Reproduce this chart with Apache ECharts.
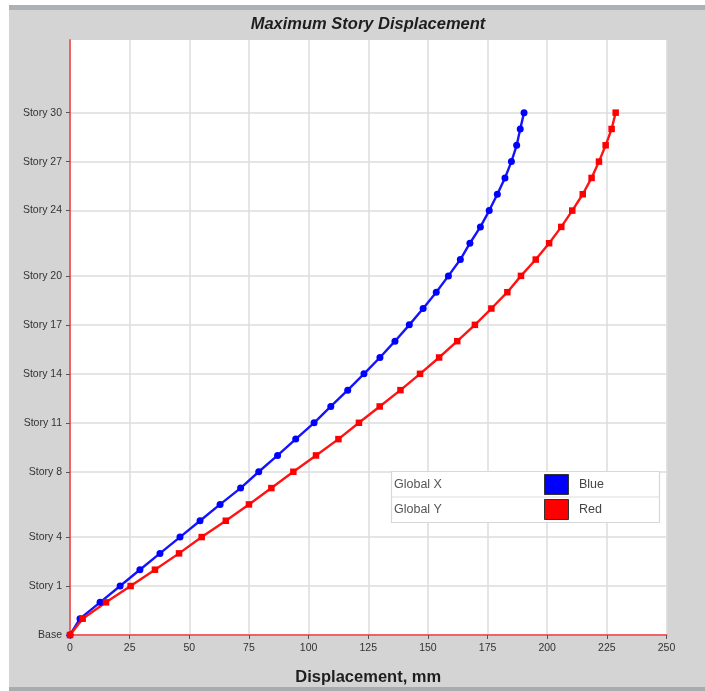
<!DOCTYPE html>
<html>
<head>
<meta charset="utf-8">
<script src="https://cdn.jsdelivr.net/npm/echarts@6/dist/echarts.min.js"></script>
<style>html,body{margin:0;padding:0;background:#fff;}#c{width:705px;height:691px;}</style>
</head>
<body>
<div id="c"></div>
<script>
// Level index: 0 = Base, 1-2 = lower levels, 3 = Story 1 ... 32 = Story 30
const tickLevels = [0, 3, 6, 10, 13, 16, 19, 22, 26, 29, 32];
const tickLabels = ['Base', 'Story 1', 'Story 4', 'Story 8', 'Story 11', 'Story 14', 'Story 17', 'Story 20', 'Story 24', 'Story 27', 'Story 30'];
const xTicks = [0, 25, 50, 75, 100, 125, 150, 175, 200, 225, 250];

const seriesNames = ['Global X', 'Global Y'];
const seriesColorNames = ['Blue', 'Red'];

// displacement (mm) at each level, Base -> Story 30
const globalX = [0, 4.2, 12.6, 21.0, 29.3, 37.7, 46.1, 54.5, 62.9, 71.5, 79.1, 87.0, 94.6, 102.3, 109.3, 116.4, 123.2, 129.9, 136.2, 142.2, 148.0, 153.5, 158.6, 163.6, 167.6, 172.0, 175.7, 179.1, 182.3, 185.0, 187.2, 188.7, 190.3];
const globalY = [0, 5.3, 15.1, 25.4, 35.6, 45.7, 55.2, 65.3, 75.0, 84.4, 93.6, 103.1, 112.5, 121.1, 129.8, 138.5, 146.7, 154.7, 162.3, 169.7, 176.6, 183.3, 189.0, 195.2, 200.8, 205.9, 210.5, 214.9, 218.6, 221.7, 224.5, 227.0, 228.7];

const chart = echarts.init(document.getElementById('c'), null, {renderer: 'canvas'});
const toPts = arr => arr.map((v, i) => [v, i]);

const axisRed = '#ee6464';
const font = 'Liberation Sans, Arial, sans-serif';

chart.setOption({
  backgroundColor: '#ffffff',
  animation: false,
  grid: {left: 70, right: 38.5, top: 40, bottom: 55.3, show: true, backgroundColor: '#ffffff', borderWidth: 0},
  xAxis: {
    type: 'value', min: 0, max: 250, interval: 25,
    name: 'Displacement, mm', nameLocation: 'middle', nameGap: 34,
    nameTextStyle: {fontFamily: font, fontSize: 16.5, fontWeight: 'bold', color: '#1e1e1e'},
    axisLine: {show: true, lineStyle: {color: axisRed, width: 2}},
    axisTick: {show: true, length: 4, lineStyle: {color: '#555', width: 1}},
    axisLabel: {fontFamily: font, fontSize: 10.5, color: '#333', margin: 8},
    splitLine: {show: true, lineStyle: {color: '#dcdcdc', width: 1.5}}
  },
  yAxis: {
    type: 'value', min: 0, max: 36.45,
    axisLine: {show: true, lineStyle: {color: axisRed, width: 2}},
    axisTick: {show: true, length: 4, customValues: tickLevels, lineStyle: {color: '#555', width: 1}},
    axisLabel: {fontFamily: font, fontSize: 10.5, color: '#333', margin: 8, customValues: tickLevels,
      formatter: v => { const k = tickLevels.indexOf(Math.round(v)); return k >= 0 ? tickLabels[k] : ''; }},
    splitLine: {show: true, lineStyle: {color: '#dcdcdc', width: 1.5}}
  },
  series: [
    {name: seriesNames[0], type: 'line', data: toPts(globalX), symbol: 'circle', symbolSize: 7,
      lineStyle: {color: '#1414ff', width: 2.4}, itemStyle: {color: '#0000ff'}},
    {name: seriesNames[1], type: 'line', data: toPts(globalY), symbol: 'rect', symbolSize: 6.5,
      lineStyle: {color: '#ff1414', width: 2.4}, itemStyle: {color: '#ff0000'}}
  ],
  graphic: [
    {type: 'rect', z: -10, silent: true, shape: {x: 9, y: 5, width: 696, height: 686}, style: {fill: '#d4d4d4'}},
    {type: 'rect', z: -9, silent: true, shape: {x: 9, y: 5, width: 696, height: 5}, style: {fill: '#aeb1b4'}},
    {type: 'rect', z: -9, silent: true, shape: {x: 9, y: 687, width: 696, height: 4}, style: {fill: '#a9acaf'}},
    {type: 'text', z: 10, x: 368, y: 24, style: {text: 'Maximum Story Displacement', fontFamily: font, fontSize: 16.5, fontWeight: 'bold', fontStyle: 'italic', fill: '#1e1e1e', align: 'center', verticalAlign: 'middle'}},
    // legend table
    {type: 'rect', z: 20, shape: {x: 391.5, y: 471.5, width: 268, height: 51}, style: {fill: '#ffffff', stroke: '#d8d8d8', lineWidth: 1.2}},
    {type: 'line', z: 21, shape: {x1: 391.5, y1: 497, x2: 659.5, y2: 497}, style: {stroke: '#dcdcdc', lineWidth: 1}},
    {type: 'text', z: 22, x: 394, y: 485, style: {text: seriesNames[0], fontFamily: font, fontSize: 12.5, fill: '#555', verticalAlign: 'middle'}},
    {type: 'text', z: 22, x: 394, y: 510, style: {text: seriesNames[1], fontFamily: font, fontSize: 12.5, fill: '#555', verticalAlign: 'middle'}},
    {type: 'rect', z: 22, shape: {x: 544.5, y: 474.5, width: 24, height: 20}, style: {fill: '#0000ff', stroke: '#333', lineWidth: 1}},
    {type: 'rect', z: 22, shape: {x: 544.5, y: 499.5, width: 24, height: 20}, style: {fill: '#ff0000', stroke: '#333', lineWidth: 1}},
    {type: 'text', z: 22, x: 579, y: 485, style: {text: seriesColorNames[0], fontFamily: font, fontSize: 12.5, fill: '#444', verticalAlign: 'middle'}},
    {type: 'text', z: 22, x: 579, y: 510, style: {text: seriesColorNames[1], fontFamily: font, fontSize: 12.5, fill: '#444', verticalAlign: 'middle'}}
  ]
});
</script>
</body>
</html>
